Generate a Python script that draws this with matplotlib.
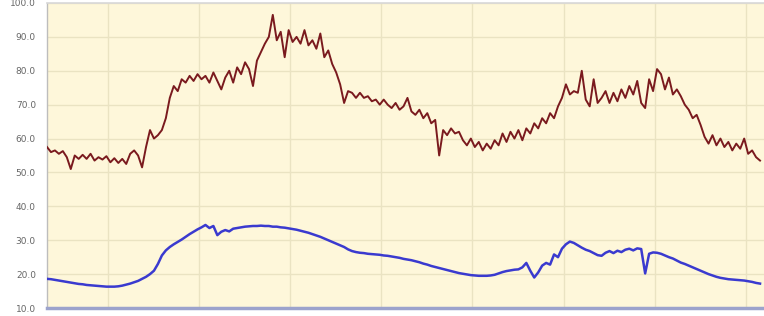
import numpy as np
import matplotlib
matplotlib.use("Agg")
import matplotlib.pyplot as plt

BG = "#FEF7DA"; GRID = "#EAE3C2"; RED = "#7A1A1E"; BLUE = "#3A3ACF"

# red series (upper), one value per sample
upper = [
    57.5, 56.0, 56.5, 55.5, 56.3, 54.5, 51.0, 55.0, 54.0, 55.2,
    54.0, 55.5, 53.5, 54.5, 53.8, 54.8, 53.0, 54.2, 52.8, 54.0,
    52.5, 55.5, 56.5, 55.0, 51.5, 57.5, 62.5, 60.0, 61.0, 62.5,
    66.0, 72.0, 75.5, 74.0, 77.5, 76.5, 78.5, 77.0, 79.0, 77.5,
    78.5, 76.5, 79.5, 77.0, 74.5, 78.0, 80.0, 76.5, 81.0, 79.0,
    82.5, 80.5, 75.5, 83.0, 85.5, 88.0, 90.0, 96.5, 89.0, 91.5,
    84.0, 92.0, 88.5, 90.0, 88.0, 92.0, 87.5, 89.0, 86.5, 91.0,
    84.0, 86.0, 82.0, 79.5, 76.0, 70.5, 74.0, 73.5, 72.0, 73.5,
    72.0, 72.5, 71.0, 71.5, 70.0, 71.5, 70.0, 69.0, 70.5, 68.5,
    69.5, 72.0, 68.0, 67.0, 68.5, 66.0, 67.5, 64.5, 65.5, 55.0,
    62.5, 61.0, 63.0, 61.5, 62.0, 59.5, 58.0, 60.0, 57.5, 59.0,
    56.5, 58.5, 57.0, 59.5, 58.0, 61.5, 59.0, 62.0, 60.0, 62.5,
    59.5, 63.0, 61.5, 64.5, 63.0, 66.0, 64.5, 67.5, 66.0, 69.5,
    72.0, 76.0, 73.0, 74.0, 73.5, 80.0, 71.5, 69.5, 77.5, 70.5,
    72.0, 74.0, 70.5, 73.5, 71.0, 74.5, 72.0, 75.5, 73.0, 77.0,
    70.5, 69.0, 77.5, 74.0, 80.5, 79.0, 74.5, 78.0, 73.0, 74.5,
    72.5, 70.0, 68.5, 66.0, 67.0, 64.0, 60.5, 58.5, 61.0, 58.0,
    60.0, 57.5, 59.0, 56.5, 58.5, 57.0, 60.0, 55.5, 56.5, 54.5,
    53.5,
]

# blue series (lower)
lower = [
    18.6, 18.5, 18.3, 18.1, 17.9, 17.7, 17.5, 17.3, 17.1, 17.0,
    16.8, 16.7, 16.6, 16.5, 16.4, 16.3, 16.3, 16.3, 16.4, 16.6,
    16.9, 17.2, 17.6, 18.0, 18.6, 19.2, 20.0, 21.0, 23.0, 25.5,
    27.0, 28.0, 28.8, 29.5, 30.2, 31.0, 31.8, 32.5, 33.2, 33.8,
    34.5, 33.6, 34.2, 31.5, 32.5, 33.0, 32.6, 33.4, 33.6, 33.8,
    34.0, 34.1, 34.2, 34.2, 34.3, 34.2, 34.2, 34.0, 34.0, 33.8,
    33.7, 33.5, 33.3, 33.1, 32.8, 32.5, 32.2, 31.8, 31.4, 31.0,
    30.5, 30.0, 29.5, 29.0, 28.5, 28.0, 27.3, 26.8, 26.5, 26.3,
    26.2, 26.0, 25.9, 25.8, 25.7, 25.5, 25.4, 25.2, 25.0, 24.8,
    24.5, 24.3, 24.1, 23.8, 23.5, 23.1, 22.8, 22.4, 22.1, 21.8,
    21.5, 21.2, 20.9, 20.6, 20.3, 20.1, 19.9, 19.7, 19.6, 19.5,
    19.5, 19.5, 19.6, 19.8, 20.2, 20.6, 20.9, 21.1, 21.3, 21.4,
    22.0, 23.3, 21.0, 19.0, 20.5, 22.5, 23.3, 22.8, 25.8, 25.0,
    27.5, 28.8, 29.6, 29.2, 28.5, 27.8, 27.2, 26.8, 26.2, 25.6,
    25.4, 26.3, 26.8, 26.2, 26.9, 26.5, 27.2, 27.5, 27.0, 27.6,
    27.4, 20.2, 26.0, 26.4, 26.3, 26.0, 25.5, 25.0, 24.6, 24.0,
    23.4, 23.0, 22.5, 22.0, 21.5, 21.0, 20.5, 20.0, 19.6, 19.2,
    18.9, 18.7, 18.5, 18.4, 18.3, 18.2, 18.1, 17.9, 17.7, 17.4,
    17.2,
]

x = np.arange(len(upper))
grid_x = np.arange(15.4, 181, 23)
y_ticks = np.arange(10, 101, 10)

fig = plt.figure(figsize=(7.64, 3.16), dpi=100, facecolor="white")
ax = fig.add_axes([47/764, 1-308/316, 1-47/764, 305/316])
ax.set_facecolor(BG)

ax.plot(x, upper, color=RED, lw=1.4, solid_joinstyle="round", zorder=3)
ax.plot(x, lower, color=BLUE, lw=1.8, solid_joinstyle="round", zorder=3)

ax.set_xlim(0, 181)
ax.set_ylim(10, 100)
ax.set_xticks(grid_x)
ax.set_xticklabels([])
ax.set_yticks(y_ticks)
ax.set_yticklabels([f"{v:.1f}" for v in y_ticks], fontsize=6.5, color="#666666")
ax.tick_params(length=0, pad=8)
ax.grid(True, color=GRID, lw=1.0, zorder=0)

for s in ["right"]:
    ax.spines[s].set_visible(False)
ax.spines["top"].set_color("#D8D8D8"); ax.spines["top"].set_linewidth(1.2)
ax.spines["left"].set_color("#BDBDBD"); ax.spines["left"].set_linewidth(1.0)
ax.spines["bottom"].set_color("#9CA3CC"); ax.spines["bottom"].set_linewidth(2.5)

fig.savefig("out.png", dpi=100, facecolor="white")
